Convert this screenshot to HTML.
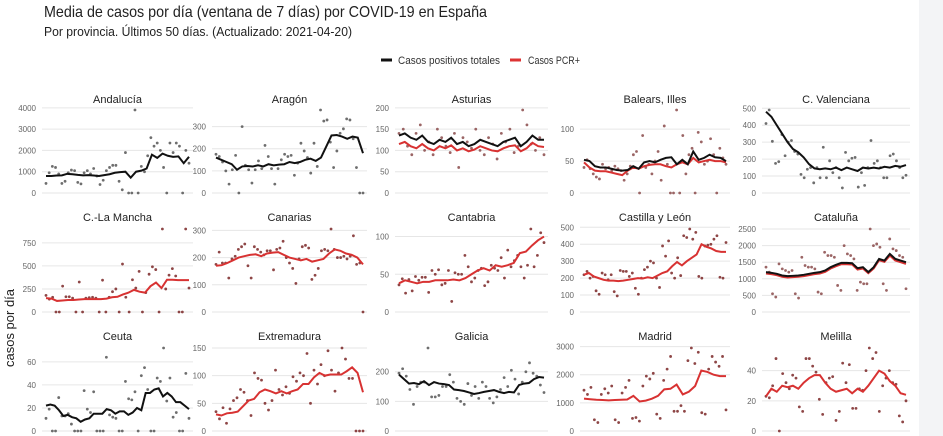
<!DOCTYPE html>
<html><head><meta charset="utf-8">
<style>
html,body{margin:0;padding:0;background:#fff;width:943px;height:436px;overflow:hidden;}
body{font-family:"Liberation Sans Narrow","Liberation Sans",sans-serif;}
.strip{position:absolute;left:919px;top:0;width:24px;height:436px;background:#f3f4f6;}
</style></head>
<body>
<div class="strip"></div>
<svg id="chart" width="943" height="436" style="position:absolute;left:0;top:0">
  <text x="44" y="17" font-size="16" fill="#222" textLength="443" lengthAdjust="spacingAndGlyphs">Media de casos por día (ventana de 7 días) por COVID-19 en España</text>
  <text x="44" y="36" font-size="12.5" fill="#222" textLength="308" lengthAdjust="spacingAndGlyphs">Por provincia. Últimos 50 días. (Actualizado: 2021-04-20)</text>
  <g>
    <g>
      <line x1="381" y1="60" x2="392" y2="60" stroke="#111" stroke-width="3"/>
      <text x="398" y="64" font-size="11" fill="#333" textLength="102" lengthAdjust="spacingAndGlyphs">Casos positivos totales</text>
    </g>
    <g>
      <line x1="510" y1="60" x2="521" y2="60" stroke="#d33" stroke-width="3"/>
      <text x="528" y="64" font-size="11" fill="#333" textLength="52" lengthAdjust="spacingAndGlyphs">Casos PCR+</text>
    </g>
  </g>
  <text transform="translate(14,328) rotate(-90)" text-anchor="middle" font-size="13" font-family="Liberation Sans, sans-serif" fill="#222">casos por día</text>
  <g id="panels"></g>
</svg>
<script>
// ---- data ----
const panelNames = ["Andalucía","Aragón","Asturias","Balears, Illes","C. Valenciana","C.-La Mancha","Canarias","Cantabria","Castilla y León","Cataluña","Ceuta","Extremadura","Galicia","Madrid","Melilla"];
const ticksAnd=[0,1000,2000,3000,4000], ticksAra=[0,100,200,300], ticksAst=[0,50,100,150,200], ticksBal=[0,50,100], ticksCV=[0,100,200,300,400,500];
const ticksCLM=[0,250,500,750], ticksCan=[0,100,200,300], ticksCant=[0,50,100], ticksCyL=[0,100,200,300,400,500], ticksCat=[0,500,1000,1500,2000,2500];
const ticksCeu=[0,20,40,60], ticksExt=[0,50,100,150], ticksGal=[0,100,200], ticksMad=[0,1000,2000,3000], ticksMel=[0,20,40];

const andTotal=[800,800,820,830,900,880,850,830,840,820,800,840,880,950,980,1000,720,1000,1050,1150,1800,1650,1850,1750,1700,1720,1400,1700];
const andDots=[450,950,1250,1200,900,450,550,950,1080,1050,500,430,950,1050,900,1150,800,400,600,1050,1200,1300,1300,550,150,1900,0,0,3900,0,1250,1000,1750,2600,2200,2350,2000,1200,0,2350,1900,2350,2200,0,2000,1400];
const araTotal=[160,150,140,130,105,120,122,120,125,120,130,125,128,130,140,135,140,150,155,145,160,210,260,262,255,245,255,250,180];
const araDots=[175,165,140,100,40,105,170,0,300,125,105,45,105,145,110,215,165,110,40,110,150,175,165,170,80,135,225,190,160,90,225,120,375,325,330,230,115,190,270,290,335,330,245,115,0,0];
const astTotal=[135,140,130,125,135,120,115,125,120,130,115,120,110,115,125,120,115,110,120,125,130,110,120,135,125,125];
const astPcr=[115,120,110,105,115,105,100,110,105,112,100,105,98,102,110,105,100,98,105,110,112,98,105,118,110,108];
const astDots=[140,150,110,90,140,160,100,120,90,150,130,110,95,140,60,130,120,105,150,100,90,130,115,80,140,120,150,95,110,195,160,115,100,130,90];
const balTotal=[52,50,42,40,40,38,36,35,36,42,38,48,50,48,52,55,56,45,52,45,65,52,55,60,56,55,50];
const balPcr=[48,40,35,34,34,32,30,28,35,40,38,42,44,45,45,42,40,45,48,45,55,48,50,52,50,50,48];
const balDots=[40,52,38,30,25,22,45,38,40,35,42,38,35,20,30,42,60,65,0,90,40,45,30,50,65,20,105,45,0,0,130,0,90,30,60,70,0,95,80,45,50,85,60,0,70,55,45];
const cvTotal=[480,450,400,350,300,260,240,210,170,145,140,145,140,150,135,150,140,130,150,145,150,145,155,150,160,155,165];
const cvDots=[410,490,305,175,185,345,220,300,310,245,230,110,90,140,150,60,150,90,270,90,190,120,150,90,30,240,190,205,210,35,120,45,150,310,175,190,150,90,90,220,230,190,150,90,105];
const clmPcr=[150,145,120,125,130,130,135,140,140,140,140,145,160,165,190,210,240,220,210,280,320,260,350,350,345,345,345];
const clmDots=[180,140,160,0,0,280,165,165,150,0,325,0,150,155,160,150,0,345,0,160,220,250,0,520,160,0,350,260,440,0,210,410,490,460,0,900,250,400,470,390,0,0,900,260];
const canPcr=[170,172,180,190,200,205,210,212,205,215,218,220,210,200,195,190,195,185,190,195,215,230,225,215,210,200,175];
const canDots=[175,220,180,180,125,195,205,230,240,250,170,125,240,230,220,210,225,225,155,230,235,260,200,180,160,105,195,240,245,235,120,135,160,225,230,225,305,230,200,200,205,195,205,280,175,180,0];
const cantPcr=[38,42,40,38,40,40,42,42,42,43,42,45,50,55,58,55,62,60,62,65,78,80,88,95,100];
const cantDots=[36,44,25,43,28,47,42,46,46,26,55,50,56,36,38,55,14,52,50,50,75,60,40,45,55,58,35,40,62,58,55,72,45,82,60,68,75,60,45,62,110,60,75,105,92];
const cylPcr=[220,230,210,200,190,185,185,182,185,190,195,200,198,205,200,215,230,240,270,295,275,300,320,340,400,385,375,360,355,355];
const cylDots=[220,240,200,210,125,105,230,220,190,220,120,95,245,240,240,210,230,140,105,200,250,265,300,290,200,145,390,330,420,230,200,320,215,450,440,490,430,470,210,200,390,395,400,430,450,205,200,410];
const catTotal=[1200,1180,1150,1100,1080,1090,1100,1120,1150,1180,1200,1250,1350,1420,1480,1480,1470,1320,1350,1200,1350,1600,1550,1750,1600,1550,1500];
const catPcr=[1160,1140,1110,1060,1040,1050,1060,1080,1110,1140,1160,1210,1310,1380,1440,1440,1430,1280,1310,1170,1310,1560,1510,1700,1550,1500,1450];
const catDots=[1350,1200,550,450,1450,1300,1250,1200,1250,550,420,1650,1400,1350,1350,1300,600,550,1800,1700,1700,1650,800,650,2000,1750,1700,1600,650,900,850,850,2500,2000,2050,1950,850,650,2200,1900,1850,1700,1650,700];
const ceuTotal=[22,23,22,18,13,14,12,11,8,10,11,15,15,15,19,18,15,17,17,14,16,20,18,33,33,36,37,30,33,30,25,25,22,19];
const ceuDots=[11,19,0,0,29,13,13,15,6,0,0,0,35,19,16,34,0,0,0,64,14,12,11,0,0,43,28,27,34,0,48,55,36,0,0,46,43,72,26,46,12,16,0,0,50,11];
const extPcr=[30,28,32,33,35,45,55,58,70,75,72,68,72,68,72,75,85,85,97,105,100,102,102,102,108,115,105,70];
const extDots=[35,22,42,14,40,55,60,75,70,55,28,105,95,92,50,38,55,110,75,65,80,68,98,90,105,100,140,50,110,85,120,100,145,110,72,105,150,130,95,95,0,0,0];
const galTotal=[190,175,160,162,158,168,155,165,160,158,155,140,138,135,130,125,128,132,135,138,132,128,132,130,155,160,162,175,182,180];
const galDots=[195,210,185,140,90,150,165,165,280,115,115,120,150,150,190,165,110,100,90,160,120,150,110,165,150,110,95,115,140,180,150,205,175,125,165,200,230,195,185,155,130];
const madPcr=[1150,1130,1110,1100,1090,1100,1110,1120,1250,1050,1080,1150,1250,1480,1500,1650,1300,1400,1600,2150,2100,2000,1950,1950];
const madDots=[1450,1300,1550,400,300,1300,1500,1350,1600,400,300,1350,1550,1800,450,480,350,1600,1950,1850,2050,600,450,1800,2200,2650,700,700,900,700,2500,2950,2400,2800,650,600,2200,2650,2450,2300,2650,750];
const melPcr=[23,28,26,30,29,30,28,32,35,37,37,32,28,26,27,28,25,28,26,30,35,40,38,33,30,25,24];
const melDots=[23,22,30,48,0,38,32,28,37,35,16,13,48,48,43,39,21,11,32,35,36,7,13,45,32,44,15,15,28,27,40,55,48,52,13,30,35,40,32,31,10,6,20];

const panelTicks=[ticksAnd,ticksAra,ticksAst,ticksBal,ticksCV,ticksCLM,ticksCan,ticksCant,ticksCyL,ticksCat,ticksCeu,ticksExt,ticksGal,ticksMad,ticksMel];
const panelTotals=[andTotal,araTotal,astTotal,balTotal,cvTotal,null,null,null,null,catTotal,ceuTotal,null,galTotal,null,null];
const panelPcrs=[null,null,astPcr,balPcr,null,clmPcr,canPcr,cantPcr,cylPcr,catPcr,null,extPcr,null,madPcr,melPcr];
const panelDots=[andDots,araDots,astDots,balDots,cvDots,clmDots,canDots,cantDots,cylDots,catDots,ceuDots,extDots,galDots,madDots,melDots];

// ---- layout ----
const colLeft=[42,212,395,580,762], colRight=[193,367,548,730,910];
const rowBottom=[193,312,431], plotH=83;
const NS="http://www.w3.org/2000/svg";
const root=document.getElementById('panels');
function mk(tag,attrs,parent){const e=document.createElementNS(NS,tag);for(const k in attrs)e.setAttribute(k,attrs[k]);parent.appendChild(e);return e;}

panelNames.forEach((name,p)=>{
  const c=p%5, r=Math.floor(p/5);
  const L=colLeft[c], R=colRight[c], B=rowBottom[r];
  const tot=panelTotals[p], pcr=panelPcrs[p], dots=panelDots[p], ticks=panelTicks[p];
  const yMax=Math.max(...dots,...(tot||[0]),...(pcr||[0]),ticks[ticks.length-1]*0.9);
  const y=v=>B-v/yMax*plotH;
  const xs=(i,n)=>L+4+i*(R-L-8)/(n-1);
  const g=mk('g',{},root);
  
  
  const t=mk('text',{x:(L+R)/2,y:B-plotH-8-(r===0?-1:0),'text-anchor':'middle','font-size':11,fill:'#222'},g);
  t.textContent=name;
  
  
  ticks.forEach(tv=>{
    const gl=mk('line',{x1:L,x2:R,y1:y(tv),y2:y(tv),stroke:'#e6e6e6','stroke-width':1},g);
    
    
    const tl=mk('text',{x:L-6,y:y(tv)+3,'text-anchor':'end','font-size':8,fill:'#666'},g);
    tl.textContent=tv;
    
    
  });
  const dotColor=(tot&&pcr)?'#8a4a4a':(pcr?'#7a2626':'#555');
  dots.forEach((v,i)=>{
    const d=mk('circle',{cx:xs(i,dots.length),cy:y(v),r:1.4,fill:dotColor,opacity:0.85},g);
    
    
  });
  if(pcr){
    const pl=mk('polyline',{points:pcr.map((v,i)=>xs(i,pcr.length)+','+y(v)).join(' '),fill:'none',stroke:'#d83232','stroke-width':2},g);
    
    
  }
  if(tot){
    const tl2=mk('polyline',{points:tot.map((v,i)=>xs(i,tot.length)+','+y(v)).join(' '),fill:'none',stroke:'#111','stroke-width':2},g);
    
    
  }
});
</script>
</body></html>
